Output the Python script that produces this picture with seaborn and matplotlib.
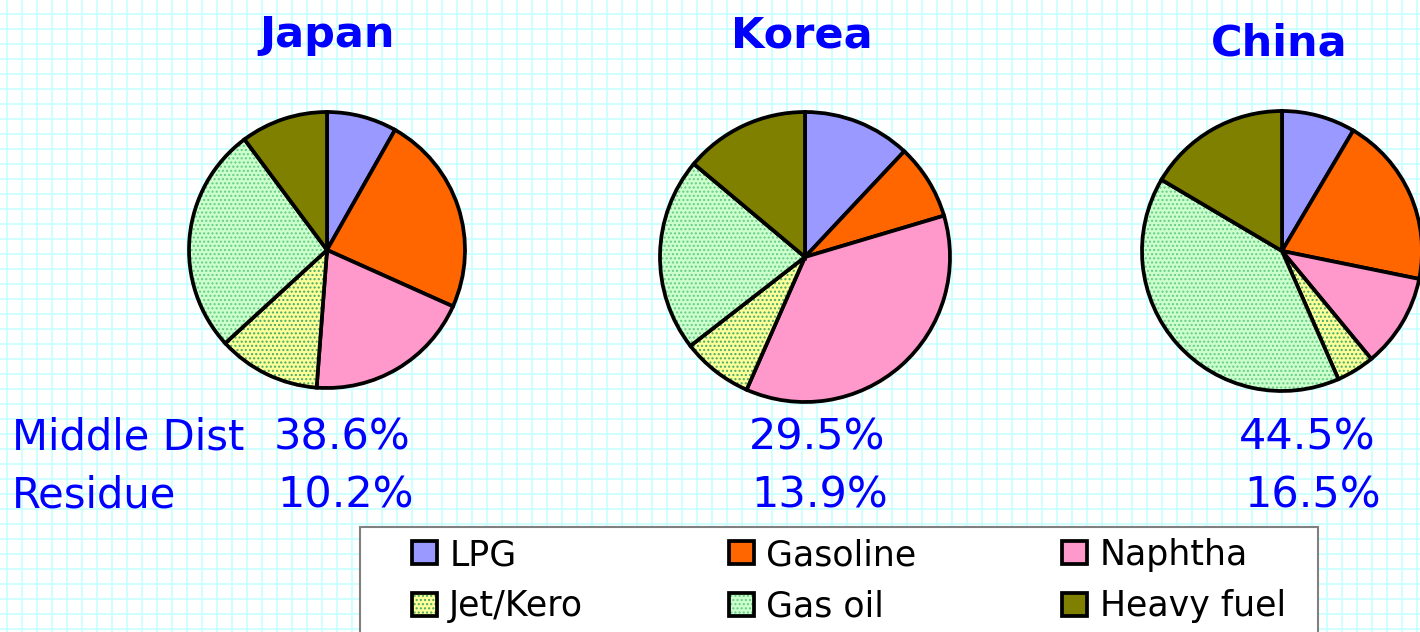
import numpy as np
import matplotlib
matplotlib.use("Agg")
import matplotlib.pyplot as plt
from matplotlib.patches import Rectangle
import seaborn as sns

# ---------------- data ----------------
products = ["LPG", "Gasoline", "Naphtha", "Jet/Kero", "Gas oil", "Heavy fuel"]
japan = [8.2, 23.5, 19.5, 12.0, 26.6, 10.2]
korea = [12.0, 8.4, 36.2, 7.9, 21.6, 13.9]
china = [8.5, 19.7, 10.8, 4.4, 40.1, 16.5]
countries = ["Japan", "Korea", "China"]
middle_dist = ["38.6%", "29.5%", "44.5%"]
residue = ["10.2%", "13.9%", "16.5%"]
row_labels = ["Middle Dist", "Residue"]

# ---------------- style ----------------
sns.set_theme(style="white")
plt.rcParams["font.family"] = ["DejaVu Sans"]
plt.rcParams["hatch.linewidth"] = 1.0
plt.rcParams["text.color"] = "black"

fill_colors = sns.color_palette(["#9999ff", "#ff6600", "#ff99cc", "#ffff99", "#ccffcc", "#808000"])
hatches = [None, None, None, "....", "....", None]
hatch_colors = [None, None, None, "#44aa66", "#66cc88", None]
blue = "#0000ff"

W, H = 1420, 632
fig = plt.figure(figsize=(W / 100, H / 100), dpi=100)
fig.patch.set_facecolor("white")
ax = fig.add_axes([0, 0, 1, 1])

# layout (pixel positions, y measured from top)
pie_centers = [(327, 250), (805, 257), (1282, 251)]
pie_radii = [138, 145, 140]
title_pos = [(327, 47), (802, 47), (1279, 55)]
num_x1 = [342, 817, 1307]
num_x2 = [346, 820, 1313]

all_wedges = []
for vals, (cx, cy), r in zip([japan, korea, china], pie_centers, pie_radii):
    wedges, _ = ax.pie(vals, colors=fill_colors, startangle=90, counterclock=False,
                       center=(cx, H - cy), radius=r,
                       wedgeprops=dict(edgecolor="black", linewidth=2.7),
                       frame=True)
    for w, h, hc in zip(wedges, hatches, hatch_colors):
        if h:
            w.set_hatch(h)
            if hasattr(w, "set_hatchcolor"):
                w.set_hatchcolor(hc)
            else:
                w._hatch_color = matplotlib.colors.to_rgba(hc)
    all_wedges.append(wedges)

ax.set_xlim(0, W)
ax.set_ylim(0, H)
ax.set_aspect("auto")

# background grid
ax.set_xticks(np.arange(7, W, 15))
ax.set_yticks(H - np.arange(14, H, 15))
ax.minorticks_off()
ax.tick_params(length=0, labelbottom=False, labelleft=False)
ax.grid(True, which="major", color="#ccffff", linewidth=1.3)
ax.set_axisbelow(True)
for s in ax.spines.values():
    s.set_visible(False)
ax.patch.set_alpha(0)

# titles
for name, (tx, ty) in zip(countries, title_pos):
    ax.text(tx, H - ty, name, ha="center", va="baseline", fontsize=31,
            fontweight="bold", color=blue)

# summary rows
ax.text(12, H - 450, row_labels[0], ha="left", va="baseline", fontsize=30, color=blue)
ax.text(12, H - 508, row_labels[1], ha="left", va="baseline", fontsize=30, color=blue)
for x1, x2, m, rsd in zip(num_x1, num_x2, middle_dist, residue):
    ax.text(x1, H - 450, m, ha="center", va="baseline", fontsize=31, color=blue)
    ax.text(x2, H - 508, rsd, ha="center", va="baseline", fontsize=31, color=blue)

# legend frame
frame = Rectangle((360 / W, -0.1), 958 / W, (H - 527) / H + 0.1,
                  transform=fig.transFigure, facecolor="white",
                  edgecolor="#808080", linewidth=1.5, zorder=3)
fig.add_artist(frame)

order = [0, 3, 1, 4, 2, 5]
leg = fig.legend([all_wedges[0][i] for i in order], [products[i] for i in order],
                 ncol=3, loc="upper left", bbox_to_anchor=(412 / W, (H - 538) / H),
                 frameon=False, fontsize=25, handlelength=0.72, handleheight=0.63,
                 handletextpad=0.35, columnspacing=4.2, labelspacing=0.5,
                 borderpad=0, borderaxespad=0, labelcolor="black")
leg.set_zorder(5)

fig.savefig("out.png", dpi=100, facecolor="white")
